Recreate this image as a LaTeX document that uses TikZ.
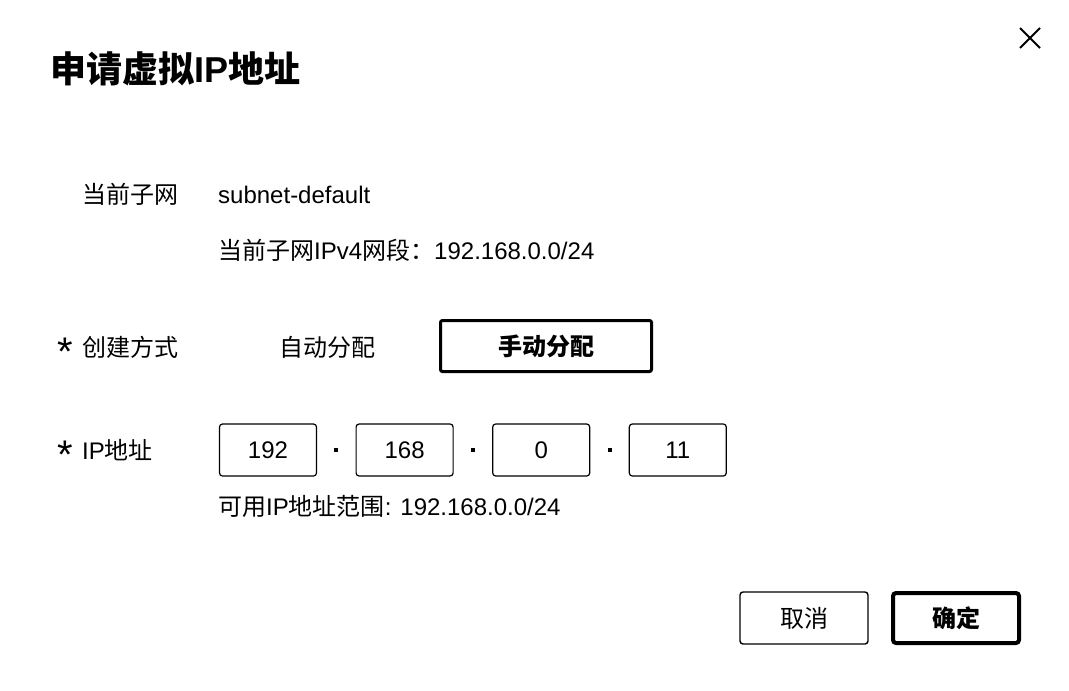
\documentclass[tikz,border=0pt]{standalone}
\usepackage{fontspec}
\setmainfont{Liberation Sans}
\newfontfamily\cjk{Noto Sans CJK SC}
\usetikzlibrary{positioning}

\tikzset{
    body/.style={font=\fontsize{24}{28}\selectfont},
    lbl/.style={body, anchor=base west, inner sep=0pt},
    star/.style={anchor=base, inner sep=0pt, font=\fontsize{40}{44}\selectfont},
    title/.style={anchor=base west, inner sep=0pt, font=\fontsize{36}{40}\selectfont\bfseries},
    field/.style={body, draw, line width=1.2pt, rounded corners=3pt, minimum width=97pt, minimum height=52pt, inner sep=0pt},
    dotsq/.style={fill, minimum size=4pt, inner sep=0pt},
    btn/.style={body, draw, line width=1.4pt, rounded corners=3pt, minimum width=128pt, minimum height=52pt, inner sep=0pt},
    selbtn/.style={body, draw, line width=3pt, rounded corners=2pt, minimum width=211pt, minimum height=51pt, inner sep=0pt, font=\fontsize{24}{28}\selectfont\bfseries},
    okbtn/.style={btn, line width=4pt, minimum width=126pt, minimum height=50pt, font=\fontsize{24}{28}\selectfont\bfseries},
    closex/.style={line width=2pt}
}

\begin{document}
\begin{tikzpicture}[x=1pt, y=-1pt]

    % constants
    \def\lblx{82}
    \def\valx{218}

    \useasboundingbox (0,0) rectangle (1069,691);

    \node [title] (title) at (50,82) {{\cjk 申请虚拟}IP{\cjk 地址}};

    \draw [closex] (1020,28) -- (1040,48);
    \draw [closex] (1020,48) -- (1040,28);

    % current subnet
    \node [lbl] (subnetlbl) at (\lblx,203) {\cjk 当前子网};
    \node [lbl] (subnetval) at (\valx,203) {subnet-default};
    \node [lbl] (subnetseg) at (\valx,259) {{\cjk 当前子网}IPv4{\cjk 网段：}192.168.0.0/24};

    % creation mode
    \node [star] (star1) at (65,365) {*};
    \node [lbl] (modelbl) at (\lblx,356) {\cjk 创建方式};
    \node [lbl] (auto) at (279,356) {\cjk 自动分配};
    \node [selbtn] (manual) at (546,346) {\cjk 手动分配};

    % ip address
    \node [star] (star2) at (65,468) {*};
    \node [lbl] (iplbl) at (\lblx,459) {IP{\cjk 地址}};
    \node [field] (ipa) at (268,450) {192};
    \node [dotsq, right=17pt of ipa] (dota) {};
    \node [field, right=17pt of dota] (ipb) {168};
    \node [dotsq, right=17pt of ipb] (dotb) {};
    \node [field, right=17pt of dotb] (ipc) {0};
    \node [dotsq, right=17pt of ipc] (dotc) {};
    \node [field, right=17pt of dotc] (ipd) {11};
    \node [lbl] (range) at (\valx,515) {{\cjk 可用}IP{\cjk 地址范围}: 192.168.0.0/24};

    % buttons
    \node [btn] (cancel) at (804,618) {\cjk 取消};
    \node [okbtn] (ok) at (956,618) {\cjk 确定};

\end{tikzpicture}
\end{document}
